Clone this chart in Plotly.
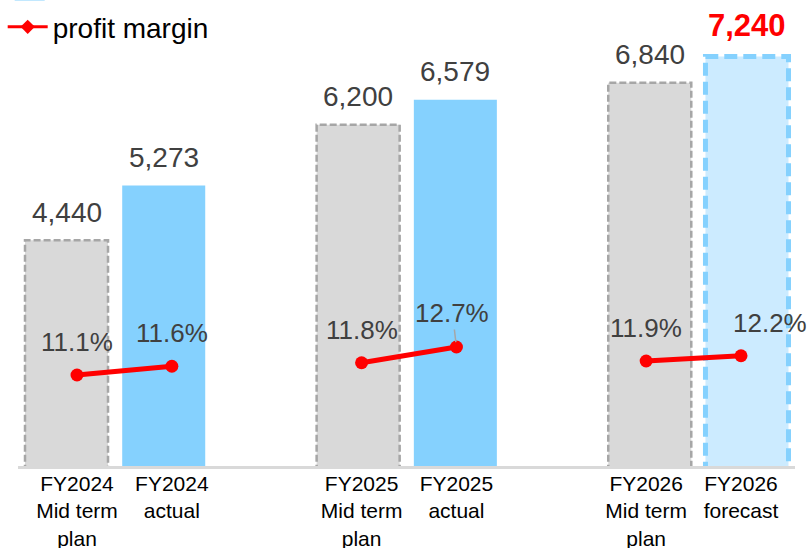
import plotly.graph_objects as go

# ---- data ----
categories = ["FY2024<br>Mid term<br>plan", "FY2024<br>actual",
              "FY2025<br>Mid term<br>plan", "FY2025<br>actual",
              "FY2026<br>Mid term<br>plan", "FY2026<br>forecast"]
slots = [0, 1, 3, 4, 6, 7]            # category slot positions (gaps between years)
profit = [4440, 5273, 6200, 6579, 6840, 7240]
profit_labels = ["4,440", "5,273", "6,200", "6,579", "6,840", "7,240"]
kind = ["plan", "actual", "plan", "actual", "plan", "forecast"]
margin_pct = [11.1, 11.6, 11.8, 12.7, 11.9, 12.2]
margin_labels = ["11.1%", "11.6%", "11.8%", "12.7%", "11.9%", "12.2%"]

GRAY = "#D9D9D9"
GRAY_EDGE = "#A6A6A6"
BLUE = "#85D1FE"
BLUE_LIGHT = "#CCEBFF"
RED = "#FF0000"
TXT = "#404040"
FONT = "Liberation Sans, Arial, sans-serif"
BAR_W = 0.854

fig = go.Figure()

fill = {"plan": GRAY, "actual": BLUE, "forecast": BLUE_LIGHT}
for k in ["plan", "actual", "forecast"]:
    xs = [s for s, t in zip(slots, kind) if t == k]
    ys = [v for v, t in zip(profit, kind) if t == k]
    fig.add_trace(go.Bar(x=xs, y=ys, width=BAR_W, marker=dict(color=fill[k], line=dict(width=0)),
                         xaxis="x", yaxis="y", showlegend=False, hoverinfo="skip"))

# dashed outlines for plan / forecast bars (drawn through the bar axes)
for s, v, t in zip(slots, profit, kind):
    if t == "actual":
        continue
    xl, xr = s - BAR_W / 2, s + BAR_W / 2
    if t == "plan":
        ln = dict(color=GRAY_EDGE, width=2.5, dash="7px,3px")
    else:
        ln = dict(color=BLUE, width=5, dash="13px,6px")
    fig.add_trace(go.Scatter(x=[xl, xl, xr, xr, xl], y=[0, v, v, 0, 0], mode="lines", line=ln,
                             xaxis="x", yaxis="y", showlegend=False, hoverinfo="skip"))

# profit margin lines (pairs per year)
for i in range(0, 6, 2):
    fig.add_trace(go.Scatter(x=slots[i:i + 2], y=margin_pct[i:i + 2], mode="lines+markers",
                             line=dict(color=RED, width=5), marker=dict(color=RED, size=13),
                             xaxis="x2", yaxis="y2", showlegend=False, hoverinfo="skip"))

# legend entries
fig.add_trace(go.Scatter(x=[None], y=[None], mode="lines", name=" ", legend="legend2",
                         line=dict(color=BLUE, width=12), xaxis="x2", yaxis="y2"))
fig.add_trace(go.Scatter(x=[None], y=[None], mode="lines+markers", name="profit margin",
                         line=dict(color=RED, width=3), marker=dict(color=RED, size=11, symbol="diamond"),
                         xaxis="x2", yaxis="y2"))

# value labels above bars
for s, v, lab, t in zip(slots, profit, profit_labels, kind):
    if t == "forecast":
        fig.add_annotation(x=s, y=v, xref="x", yref="y", text="<b>" + lab + "</b>", showarrow=False,
                           yanchor="middle", yshift=31, font=dict(family=FONT, size=31, color=RED))
    else:
        fig.add_annotation(x=s, y=v, xref="x", yref="y", text=lab, showarrow=False,
                           yanchor="middle", yshift=28, font=dict(family=FONT, size=28, color=TXT))

# margin labels
for s, v, lab in zip(slots, margin_pct, margin_labels):
    if lab == "12.7%":
        fig.add_annotation(x=s, y=v, xref="x2", yref="y2", text=lab, showarrow=True, ax=-4, ay=-34,
                           arrowhead=0, arrowwidth=1.5, arrowcolor="#A6A6A6", standoff=5,
                           font=dict(family=FONT, size=26, color=TXT))
    else:
        fig.add_annotation(x=s, y=v, xref="x2", yref="y2", text=lab, showarrow=False,
                           yanchor="middle", yshift=33, xshift=29 if lab == "12.2%" else 0,
                           font=dict(family=FONT, size=26, color=TXT))

fig.update_layout(
    width=809, height=548,
    margin=dict(l=18, r=14, t=0, b=82, autoexpand=False),
    paper_bgcolor="white", plot_bgcolor="white",
    barmode="overlay",
    showlegend=True,
    legend=dict(x=-0.0197, y=0.9954, xanchor="left", yanchor="top", bgcolor="rgba(0,0,0,0)",
                font=dict(family=FONT, size=28, color="black"), itemwidth=40,
                tracegroupgap=0),
    legend2=dict(x=-0.0107, y=1.0408, xanchor="left", yanchor="top", bgcolor="rgba(0,0,0,0)",
                 font=dict(family=FONT, size=10, color="black"), itemwidth=30),
    xaxis=dict(range=[-0.499, 7.494], showgrid=False, zeroline=False, showticklabels=False,
               showline=True, linecolor=GRAY, linewidth=2.5, ticks=""),
    xaxis2=dict(range=[-0.622, 7.569], overlaying="x", side="bottom", anchor="y2",
                tickvals=slots, ticktext=categories, showgrid=False, zeroline=False,
                showline=False, ticks="", ticklabelstandoff=3,
                tickfont=dict(family=FONT, size=21, color="black")),
    yaxis=dict(range=[1000, 8100], visible=False, showgrid=False),
    yaxis2=dict(range=[5.9, 32.53], overlaying="y", visible=False, showgrid=False),
)

fig.write_html("out.html")
